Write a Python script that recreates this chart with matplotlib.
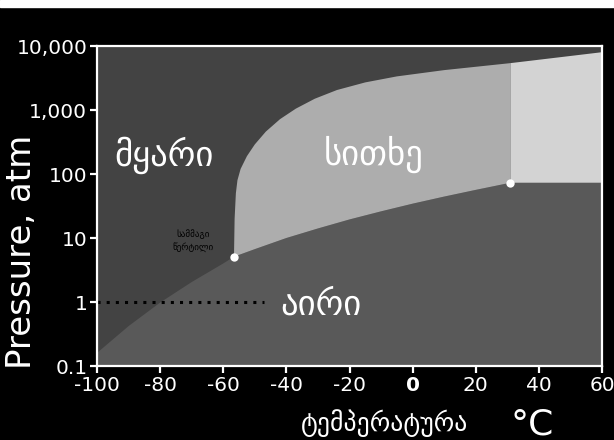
import matplotlib
matplotlib.use("Agg")
import matplotlib.pyplot as plt
from matplotlib.patches import Rectangle

# CO2 phase diagram, temperature in deg C, pressure in atm
# solid-gas (sublimation) curve
subl_t = [-100, -90, -80, -70, -60, -56.6]
subl_p = [0.16, 0.42, 0.98, 2.05, 4.0, 5.1]

# liquid-gas (vaporization) curve up to the critical point
vap_t = [-56.6, -50, -40, -30, -20, -10, 0, 10, 20, 31]
vap_p = [5.1, 6.7, 10.0, 14.1, 19.5, 26.1, 34.4, 44.4, 56.5, 73.0]

# solid-liquid (melting) curve
melt_t = [-56.6, -56.4, -56.0, -55.5, -54.5, -52.5, -50.0, -46.5, -42.0,
          -37.0, -31.0, -24.0, -15.0, -5.0, 10.0, 31.0, 60.0]
melt_p = [5.1, 20, 50, 80, 120, 190, 290, 460, 720,
          1050, 1500, 2050, 2700, 3350, 4200, 5400, 8000]

triple = (-56.6, 5.1)
critical = (31.0, 73.0)

x_ticks = [-100, -80, -60, -40, -20, 0, 20, 40, 60]
y_ticks = [0.1, 1, 10, 100, 1000, 10000]
y_labels = ["0.1", "1", "10", "100", "1,000", "10,000"]

T_MIN, T_MAX = -100, 60
P_MIN, P_MAX = 0.1, 10000

C_SOLID = "#434343"
C_GAS = "#595959"
C_LIQ = "#adadad"
C_SCF = "#d3d3d3"

plt.rcParams["font.family"] = ["DejaVu Sans"]

fig = plt.figure(figsize=(6.14, 4.40), dpi=100, facecolor="black")
fig.patches.append(Rectangle((0, 1 - 7 / 440), 1, 7 / 440,
                             transform=fig.transFigure, color="white",
                             zorder=-1))
ax = fig.add_axes([97 / 614, 1 - 366 / 440, 505 / 614, 320 / 440])
ax.set_facecolor(C_SOLID)
ax.set_yscale("log")
ax.set_xlim(T_MIN, T_MAX)
ax.set_ylim(P_MIN, P_MAX)

# gas region: below sublimation + vaporization curves and below Pc
gas_x = [T_MIN] + subl_t + vap_t[1:] + [T_MAX, T_MAX]
gas_y = [P_MIN] + subl_p + vap_p[1:] + [critical[1], P_MIN]
ax.fill(gas_x, gas_y, color=C_GAS, lw=0)

# liquid region: between vaporization and melting curves, T < Tc
mt = [t for t in melt_t if t <= critical[0]]
mp = melt_p[:len(mt)]
liq_x = mt + [critical[0]] + vap_t[::-1]
liq_y = mp + [critical[1]] + vap_p[::-1]
ax.fill(liq_x, liq_y, color=C_LIQ, lw=0)

# supercritical region
st = [t for t in melt_t if t >= critical[0]]
sp = melt_p[len(melt_t) - len(st):]
scf_x = st + [T_MAX, critical[0]]
scf_y = sp + [critical[1], critical[1]]
ax.fill(scf_x, scf_y, color=C_SCF, lw=0)

# 1 atm reference
ax.plot([T_MIN, -47], [1, 1], color="black", lw=2.2,
        linestyle=(0, (1, 2)), dash_capstyle="butt")

ax.plot(*triple, "o", color="white", ms=6, mec="none", zorder=5)
ax.plot(*critical, "o", color="white", ms=6, mec="none", zorder=5)

ax.text(-78.8, 200, "მყარი", color="white", fontsize=25,
        ha="center", va="center")
ax.text(-12.4, 200, "სითხე", color="white", fontsize=25,
        ha="center", va="center")
ax.text(-29.2, 0.9, "აირი", color="white", fontsize=25,
        ha="center", va="center")
ax.text(-69.6, 9.2, "სამმაგი\nწერტილი", color="black", fontsize=6.5,
        ha="center", va="center", linespacing=1.4)

ax.set_xticks(x_ticks)
ax.set_xticklabels([str(v) for v in x_ticks])
ax.set_yticks(y_ticks)
ax.set_yticklabels(y_labels)
ax.minorticks_off()
for lbl in ax.get_xticklabels():
    if lbl.get_text() == "0":
        lbl.set_fontweight("bold")

for s in ax.spines.values():
    s.set_color("white")
    s.set_linewidth(1.6)
ax.tick_params(colors="white", labelsize=14.5, length=5, width=1.6,
               direction="out", pad=2)

fig.text(22 / 614, 1 - 252 / 440, "Pressure, atm", color="white",
         fontsize=24.5, rotation=90, ha="center", va="center")
fig.text(385 / 614, 1 - 423 / 440, "ტემპერატურა", color="white",
         fontsize=18.5, ha="center", va="center")
fig.text(532 / 614, 1 - 424 / 440, "°C", color="white",
         fontsize=26, ha="center", va="center")

fig.savefig("out.png", dpi=100, facecolor=fig.get_facecolor())
